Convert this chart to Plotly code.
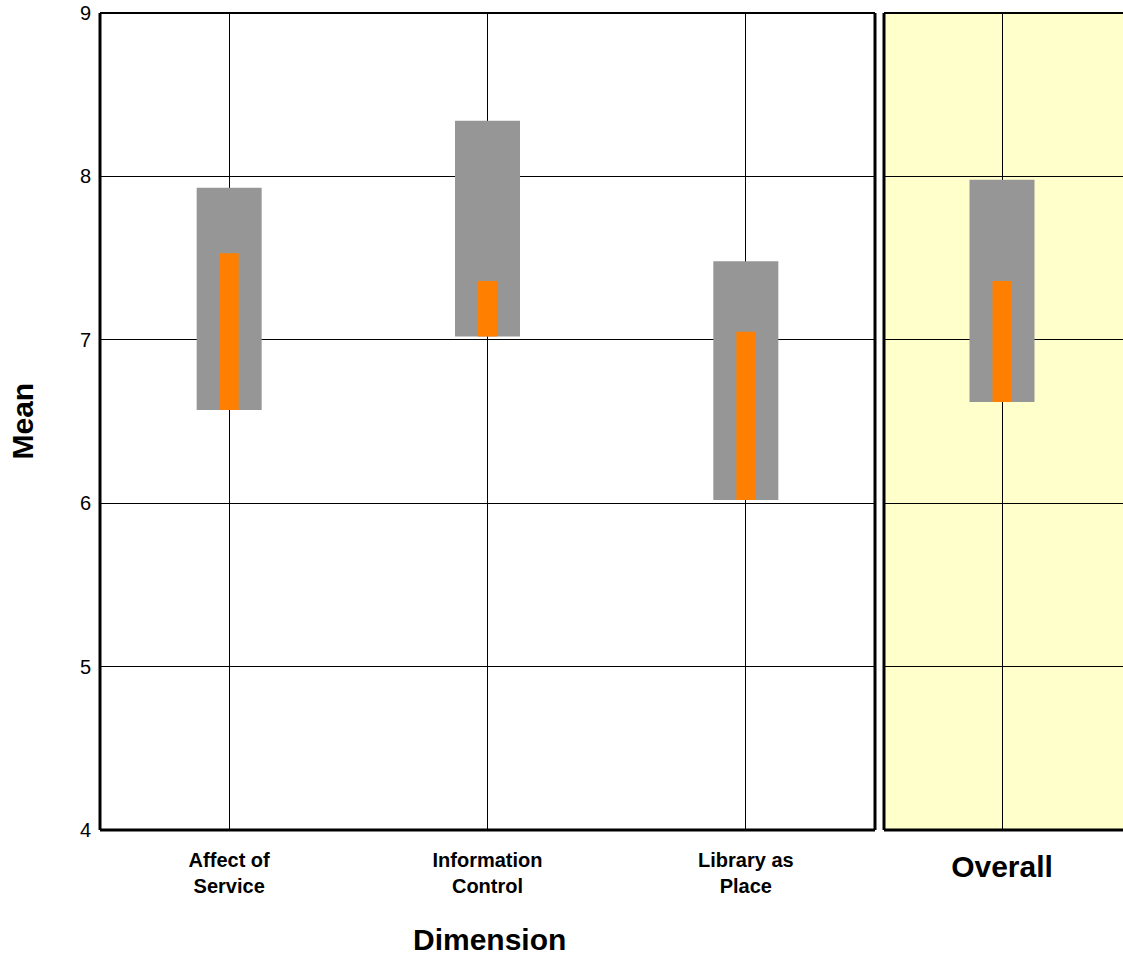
import plotly.graph_objects as go

# ---- data ----
categories = ["Affect of Service", "Information Control", "Library as Place"]
category_labels = ["Affect of<br>Service", "Information<br>Control", "Library as<br>Place"]
minimum = [6.57, 7.02, 6.02]
desired = [7.93, 8.34, 7.48]
perceived = [7.53, 7.36, 7.05]

overall_cat = ["Overall"]
overall_min = [6.62]
overall_desired = [7.98]
overall_perceived = [7.36]

y_ticks = [4, 5, 6, 7, 8, 9]

GREY = "#969696"
ORANGE = "#FF8000"
YELLOW = "#FFFFCC"
FONT = "Liberation Sans, Arial, sans-serif"

W, H = 1123, 957
ML, MR, MT, MB = 100, 0, 13, 957 - 830
PW = W - ML - MR
PH = H - MT - MB
left_dom = [0, (875 - ML) / PW]
right_dom = [(884 - ML) / PW, 1]
cat_px = (875 - ML) / 3.0
r_lo = -(1002 - 884) / cat_px
r_hi = (1123 - 1002) / cat_px
grey_w = 65 / cat_px
orange_w = 19 / cat_px

fig = go.Figure()
fig.add_trace(go.Bar(x=categories, y=[d - m for d, m in zip(desired, minimum)], base=minimum,
                     width=grey_w, marker=dict(color=GREY, line=dict(width=0)),
                     xaxis="x", yaxis="y", showlegend=False, hoverinfo="skip"))
fig.add_trace(go.Bar(x=categories, y=[p - m for p, m in zip(perceived, minimum)], base=minimum,
                     width=orange_w, marker=dict(color=ORANGE, line=dict(width=0)),
                     xaxis="x", yaxis="y", showlegend=False, hoverinfo="skip"))
fig.add_trace(go.Bar(x=overall_cat, y=[d - m for d, m in zip(overall_desired, overall_min)], base=overall_min,
                     width=grey_w, marker=dict(color=GREY, line=dict(width=0)),
                     xaxis="x2", yaxis="y2", showlegend=False, hoverinfo="skip"))
fig.add_trace(go.Bar(x=overall_cat, y=[p - m for p, m in zip(overall_perceived, overall_min)], base=overall_min,
                     width=orange_w, marker=dict(color=ORANGE, line=dict(width=0)),
                     xaxis="x2", yaxis="y2", showlegend=False, hoverinfo="skip"))

grid = dict(showgrid=True, gridcolor="#000000", gridwidth=1, zeroline=False, showline=False)

fig.update_layout(
    width=W, height=H,
    margin=dict(l=ML, r=MR, t=MT, b=MB),
    paper_bgcolor="white", plot_bgcolor="white",
    barmode="overlay",
    font=dict(family=FONT, color="black"),
    xaxis=dict(domain=left_dom, type="category", range=[-0.5, 2.5],
               tickmode="array", tickvals=categories, ticktext=category_labels,
               tickfont=dict(size=20, family=FONT, weight="bold", color="black"),
               ticks="", ticklabelstandoff=16, **grid),
    yaxis=dict(domain=[0, 1], range=[4, 9], tickmode="array", tickvals=y_ticks,
               tickfont=dict(size=20, family=FONT, color="black"),
               ticks="", ticklabelstandoff=8, ticklabeloverflow="allow", **grid),
    xaxis2=dict(domain=right_dom, anchor="y2", type="category", range=[r_lo, r_hi],
                tickfont=dict(size=30, family=FONT, weight="bold", color="black"),
                ticks="", ticklabelstandoff=16, **grid),
    yaxis2=dict(domain=[0, 1], anchor="x2", range=[4, 9], tickmode="array", tickvals=y_ticks,
                showticklabels=False, ticks="", **grid),
)

shapes = [
    dict(type="rect", xref="x2 domain", yref="y2 domain", x0=0, x1=1, y0=0, y1=1,
         fillcolor=YELLOW, line=dict(width=0), layer="below"),
]
def border(xr, yr, x0, y0, x1, y1, w):
    return dict(type="line", xref=xr, yref=yr, x0=x0, y0=y0, x1=x1, y1=y1,
                line=dict(color="black", width=w), layer="above")
shapes += [
    border("x domain", "y domain", 0, 0, 0, 1, 3),
    border("x domain", "y domain", 0, 0, 1, 0, 3),
    border("x domain", "y domain", 0, 1, 1, 1, 2),
    border("x domain", "y domain", 1, 0, 1, 1, 3),
    border("x2 domain", "y2 domain", 0, 0, 0, 1, 3),
    border("x2 domain", "y2 domain", 0, 0, 1, 0, 3),
    border("x2 domain", "y2 domain", 0, 1, 1, 1, 2),
]
fig.update_layout(shapes=shapes)

fig.add_annotation(text="<b>Mean</b>", xref="paper", yref="paper",
                   x=(21.5 - ML) / PW, y=(830 - 421) / PH, textangle=-90,
                   xanchor="center", yanchor="middle", showarrow=False,
                   font=dict(size=30, family=FONT, color="black"))
fig.add_annotation(text="<b>Dimension</b>", xref="paper", yref="paper",
                   x=(489 - ML) / PW, y=(830 - 939) / PH,
                   xanchor="center", yanchor="middle", showarrow=False,
                   font=dict(size=30, family=FONT, color="black"))

fig.write_html("out.html",
               config={"displayModeBar": False},
               post_script="document.body.style.margin='0';document.body.style.overflow='hidden';")
